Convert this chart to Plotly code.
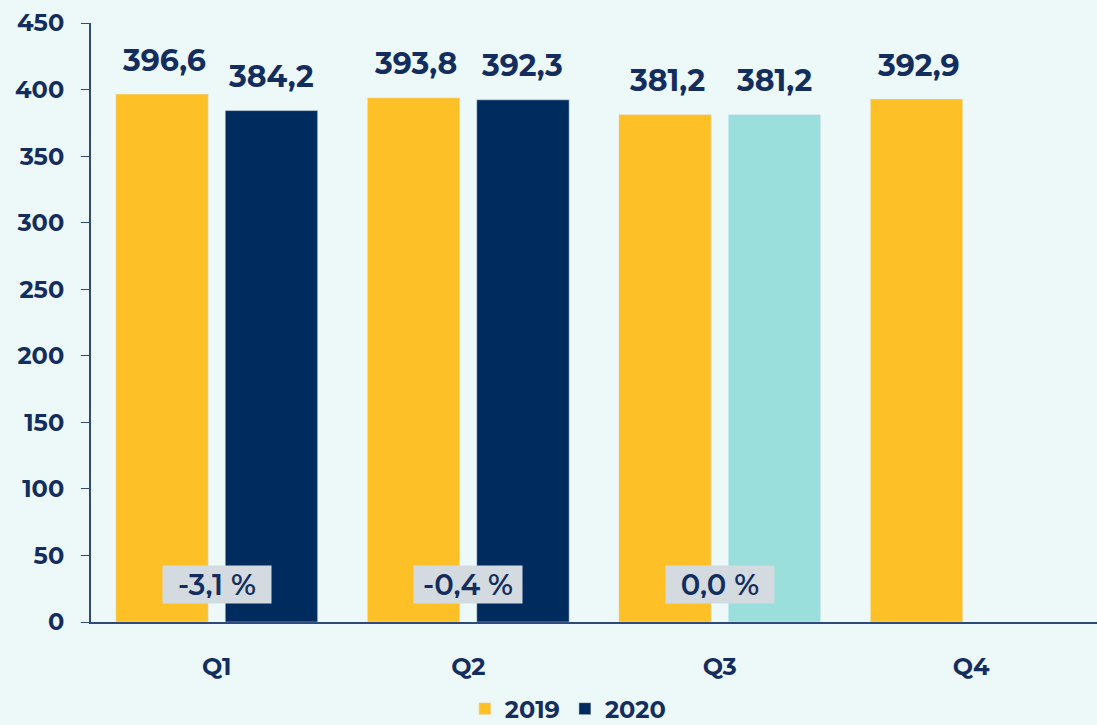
import plotly.graph_objects as go

quarters = ["Q1", "Q2", "Q3", "Q4"]
v2019 = [396.6, 393.8, 381.2, 392.9]
v2020 = [384.2, 392.3, 381.2, None]
changes = ["-3,1 %", "-0,4 %", "0,0 %"]
labels2019 = ["396,6", "393,8", "381,2", "392,9"]
labels2020 = ["384,2", "392,3", "381,2", ""]
yticks = list(range(0, 451, 50))

YELLOW = "#FDC027"
NAVY = "#002B5E"
TEAL = "#9ADFDC"
TXT = "#132E5E"
BG = "#EDF8F8"
FONT = "Montserrat, 'Open Sans', sans-serif"

colors2020 = [NAVY, NAVY, TEAL, NAVY]

fig = go.Figure()
fig.add_bar(x=quarters, y=v2019, name="2019", marker_color=YELLOW)
fig.add_bar(x=quarters, y=v2020, name="2020", marker_color=colors2020)

annotations = []
for q, v, t in zip(quarters, v2019, labels2019):
    annotations.append(dict(x=q, y=v, text=f"<b>{t}</b>", showarrow=False, xref="x", yref="y",
                            xshift=-53, yshift=34, font=dict(size=30, color=TXT, family=FONT)))
for q, v, t in zip(quarters, v2020, labels2020):
    if v is None:
        continue
    annotations.append(dict(x=q, y=v, text=f"<b>{t}</b>", showarrow=False, xref="x", yref="y",
                            xshift=54, yshift=34, font=dict(size=30, color=TXT, family=FONT)))
for q, c in zip(quarters, changes):
    annotations.append(dict(x=q, y=28.5, text=c, showarrow=False, xref="x", yref="y",
                            bgcolor="#D3DAE0", borderpad=5, width=98, height=27,
                            font=dict(size=29, color=TXT, family=FONT, weight=600)))

fig.update_layout(
    width=1097, height=725,
    paper_bgcolor=BG, plot_bgcolor=BG,
    margin=dict(l=91, r=0, t=23, b=103),
    barmode="group", bargap=0.13, bargroupgap=0.155,
    font=dict(family=FONT, color=TXT),
    showlegend=True,
    legend=dict(orientation="h", x=0.474, xanchor="center",
                yref="container", y=0.022, yanchor="middle",
                font=dict(size=24, color=TXT, family=FONT, weight="bold"),
                itemwidth=30, traceorder="normal"),
    annotations=annotations,
    xaxis=dict(showline=True, linecolor="#2E4A7A", linewidth=2, ticks="",
               tickvals=quarters, ticktext=[f"<b>{q}</b>" for q in quarters],
               ticklabelstandoff=22,
               tickfont=dict(size=24, color=TXT, family=FONT), showgrid=False),
    yaxis=dict(range=[0, 450], showline=True, linecolor="#2E4A7A", linewidth=2,
               tickvals=yticks, ticktext=[f"<b>{v}</b>" for v in yticks],
               ticks="outside", ticklen=8, tickcolor="#2E4A7A", showgrid=False, zeroline=False,
               ticklabelstandoff=12,
               tickfont=dict(size=24, color=TXT, family=FONT)),
)

fig.write_html("out.html", config={"displayModeBar": False},
               post_script=f"document.body.style.margin='0';document.body.style.background='{BG}';")
